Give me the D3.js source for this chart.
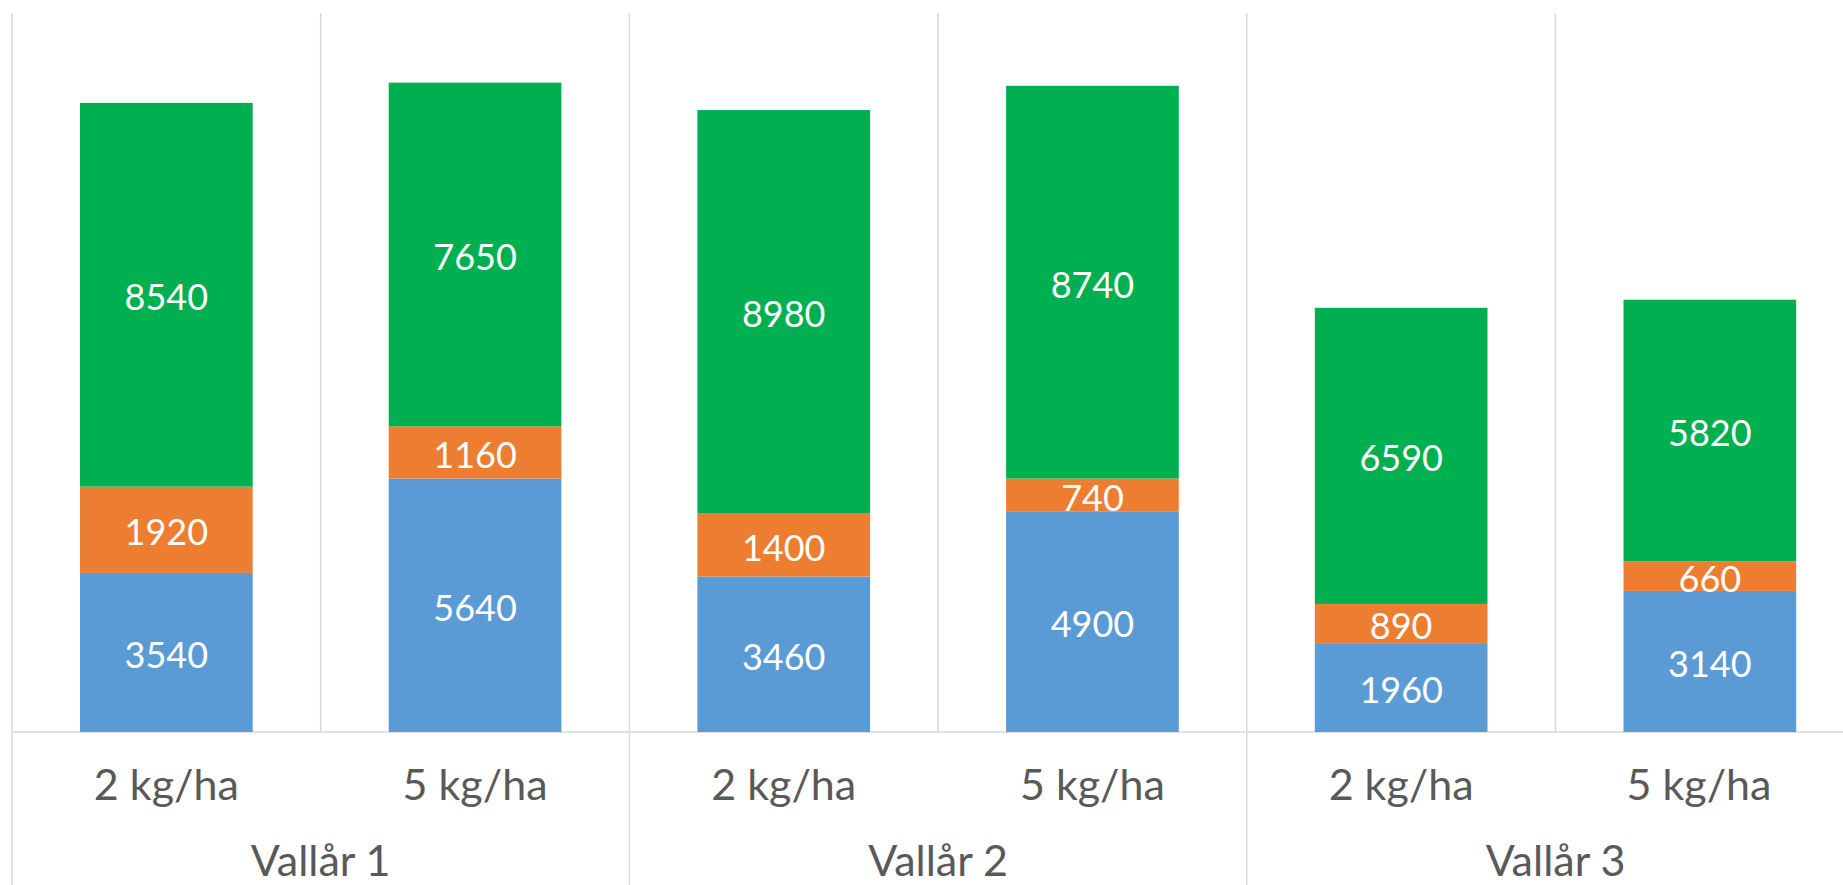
<!DOCTYPE html>
<html><head><meta charset="utf-8">
<script src="https://cdn.jsdelivr.net/npm/d3@7"></script>
<style>html,body{margin:0;padding:0;background:#fff;overflow:hidden}</style>
</head><body>
<svg id="chart" width="1843" height="885"></svg>
<script>
const categories = ["2 kg/ha","5 kg/ha","2 kg/ha","5 kg/ha","2 kg/ha","5 kg/ha"];
const groups = ["Vallår 1","Vallår 2","Vallår 3"];
const seriesBlue = [3540,5640,3460,4900,1960,3140];
const seriesOrange = [1920,1160,1400,740,890,660];
const seriesGreen = [8540,7650,8980,8740,6590,5820];
const seriesKeys = ["blue","orange","green"];
const colors = {blue:"#5B9BD5", orange:"#ED7D31", green:"#00B050"};

const rows = categories.map((c,i)=>({idx:i, cat:c, blue:seriesBlue[i], orange:seriesOrange[i], green:seriesGreen[i]}));
const stackData = d3.stack().keys(seriesKeys)(rows);

const svg = d3.select("#chart");
const plotLeft = 12, stepW = 308.7, plotTop = 13, plotBottom = 732;
const x = d3.scaleBand().domain(d3.range(categories.length)).range([plotLeft, plotLeft + stepW*categories.length])
  .paddingInner(0.4406).paddingOuter(0.2203);
const y = d3.scaleLinear().domain([0,16000]).range([plotBottom, plotTop]);
const grid = "#D9D9D9";

// vertical gridlines (category boundaries)
for (let i = 0; i < categories.length; i++) {
  const xb = plotLeft + x.step()*i;
  const groupEdge = i % 2 === 0;
  svg.append("line").attr("x1",xb).attr("x2",xb).attr("y1",plotTop).attr("y2", groupEdge ? 885 : plotBottom)
    .attr("stroke",grid).attr("stroke-width",1.5);
}
// axis line
svg.append("line").attr("x1",plotLeft).attr("x2",1843).attr("y1",plotBottom).attr("y2",plotBottom)
  .attr("stroke",grid).attr("stroke-width",1.5);

// bars
const layers = svg.selectAll("g.layer").data(stackData).join("g").attr("class","layer")
  .attr("fill", d=>colors[d.key]);
layers.selectAll("rect").data(d=>d).join("rect")
  .attr("x", d=>x(d.data.idx)).attr("width", x.bandwidth())
  .attr("y", d=>y(d[1])).attr("height", d=>y(d[0])-y(d[1]));
// labels
layers.selectAll("text").data(d=>d.map(v=>({v, key:d.key}))).join("text")
  .attr("x", d=>x(d.v.data.idx)+x.bandwidth()/2)
  .attr("y", d=>(y(d.v[0])+y(d.v[1]))/2)
  .attr("dy","0.43em")
  .attr("text-anchor","middle")
  .attr("fill","#fff")
  .style("font-family","Lato, sans-serif").style("font-size","36px")
  .text(d=>d.v.data[d.key]);

// category labels
svg.selectAll("text.cat").data(categories).join("text").attr("class","cat")
  .attr("x",(d,i)=>Math.min(x(i)+x.bandwidth()/2, 1843-144))
  .attr("y",800)
  .attr("text-anchor","middle").attr("fill","#595959")
  .style("font-family","Lato, sans-serif").style("font-size","43px")
  .text(d=>d);
// group labels
svg.selectAll("text.grp").data(groups).join("text").attr("class","grp")
  .attr("x",(d,i)=>plotLeft + x.step()*(2*i+1))
  .attr("y",876)
  .attr("text-anchor","middle").attr("fill","#595959")
  .style("font-family","Lato, sans-serif").style("font-size","43px")
  .text(d=>d);
</script>
</body></html>
